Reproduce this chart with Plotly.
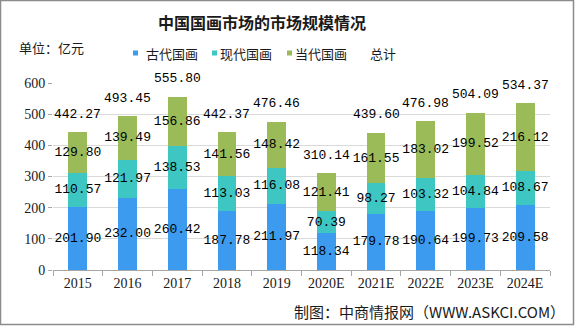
import plotly.graph_objects as go

years = ["2015", "2016", "2017", "2018", "2019", "2020E", "2021E", "2022E", "2023E", "2024E"]
ancient = [201.90, 232.00, 260.42, 187.78, 211.97, 118.34, 179.78, 190.64, 199.73, 209.58]
modern = [110.57, 121.97, 138.53, 113.03, 116.08, 70.39, 98.27, 103.32, 104.84, 108.67]
contemporary = [129.80, 139.49, 156.86, 141.56, 148.42, 121.41, 161.55, 183.02, 199.52, 216.12]
totals = [442.27, 493.45, 555.80, 442.37, 476.46, 310.14, 439.60, 476.98, 504.09, 534.37]
series_names = ["古代国画", "现代国画", "当代国画", "总计"]
colors = ["#3c9bee", "#3ec6c3", "#9bbb59"]

W, H = 575, 326
L, R, T, B = 53, 25, 83, 56
pw, ph = W - L - R, H - T - B

label_font = dict(family="Liberation Mono, DejaVu Sans Mono, monospace", size=13, color="#000000")
cjk = "Noto Sans CJK SC"

fig = go.Figure()
for name, vals, col in zip(series_names[:3], [ancient, modern, contemporary], colors):
    fig.add_trace(go.Bar(
        x=years, y=vals, name=name, marker=dict(color=col, line=dict(width=0)),
        text=[f"{v:.2f}" for v in vals], textposition="inside", insidetextanchor="middle",
        textangle=0, constraintext="none", insidetextfont=label_font, cliponaxis=False,
        hoverinfo="skip", showlegend=False,
    ))

fig.add_trace(go.Scatter(
    x=years, y=totals, name=series_names[3], mode="lines",
    line=dict(width=0, color="rgba(0,0,0,0)"), hoverinfo="skip", showlegend=False,
))

for i, tv in enumerate(totals):
    fig.add_annotation(x=i, y=tv, text=f"{tv:.2f}", showarrow=False, yshift=18,
                       font=label_font, xanchor="center", yanchor="middle")

def px_x(p):
    return (p - L) / pw

def px_y(p):
    return (H - B - p) / ph

# legend (drawn manually for compact symbols)
legend_sym_x = [133, 212, 287, None]
legend_txt_x = [144, 218, 293, 368]
legend_cy = 53
for i, name in enumerate(series_names):
    if legend_sym_x[i] is not None:
        fig.add_shape(type="rect", xref="paper", yref="paper",
                      x0=px_x(legend_sym_x[i]), x1=px_x(legend_sym_x[i] + 5),
                      y0=px_y(legend_cy + 2.5), y1=px_y(legend_cy - 2.5),
                      line=dict(width=0), fillcolor=colors[i])
    fig.add_annotation(xref="paper", yref="paper", x=px_x(legend_txt_x[i]), y=px_y(legend_cy),
                       text=name, showarrow=False, xanchor="left", yanchor="middle",
                       font=dict(family=cjk, size=13, color="#1a1a1a"))

# title, unit, footer
fig.add_annotation(xref="paper", yref="paper", x=px_x(262), y=px_y(22), text="<b>中国国画市场的市场规模情况</b>",
                   showarrow=False, xanchor="center", yanchor="middle",
                   font=dict(family=cjk, size=16, color="#1a1a1a"))
fig.add_annotation(xref="paper", yref="paper", x=px_x(17), y=px_y(48), text="单位：亿元",
                   showarrow=False, xanchor="left", yanchor="middle",
                   font=dict(family=cjk, size=13, color="#1a1a1a"))
fig.add_annotation(xref="paper", yref="paper", x=px_x(567), y=px_y(311), text="制图：中商情报网（WWW.ASKCI.COM）",
                   showarrow=False, xanchor="right", yanchor="middle",
                   font=dict(family=cjk, size=15, color="#1a1a1a"))

# outer border
fig.add_shape(type="rect", xref="paper", yref="paper", x0=px_x(0.5), x1=px_x(W - 1.5), y0=px_y(0.5), y1=px_y(H - 1.5),
              line=dict(color="#8c8c8c", width=1.5), fillcolor="rgba(0,0,0,0)", layer="above")

fig.update_layout(
    width=W, height=H, barmode="stack", bargap=0.62,
    margin=dict(l=L, r=R, t=T, b=B, autoexpand=False),
    paper_bgcolor="#ffffff", plot_bgcolor="#ffffff",
    showlegend=False,
    font=dict(family=cjk, color="#1a1a1a"),
    xaxis=dict(type="category", range=[-0.5, 9.5], showgrid=False, showline=True, linecolor="#a6a6a6", linewidth=1,
               ticks="outside", tickson="boundaries", ticklen=5, tickcolor="#a6a6a6",
               tickfont=dict(family="Liberation Serif", size=14, color="#1a1a1a"), fixedrange=True),
    yaxis=dict(range=[0, 600], dtick=100, showgrid=True, gridcolor="#d9d9d9", gridwidth=1,
               showline=False, zeroline=False, ticks="outside", ticklen=4, tickcolor="#a6a6a6",
               tickfont=dict(family="Liberation Serif", size=14, color="#1a1a1a"), fixedrange=True),
)

fig.write_html("out.html")
